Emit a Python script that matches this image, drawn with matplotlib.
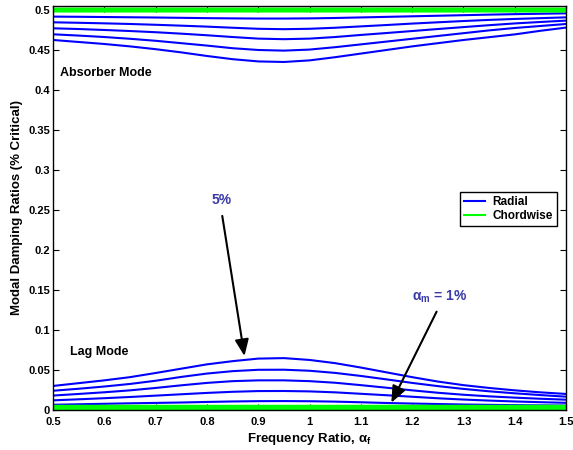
import numpy as np
import matplotlib
matplotlib.use("Agg")
import matplotlib.pyplot as plt
from matplotlib.lines import Line2D

plt.rcParams['font.family'] = ['Liberation Sans', 'DejaVu Sans']
plt.rcParams['font.weight'] = 'bold'
plt.rcParams['mathtext.fontset'] = 'custom'
plt.rcParams['mathtext.rm'] = 'Liberation Sans:bold'
plt.rcParams['mathtext.bf'] = 'Liberation Sans:bold'
plt.rcParams['mathtext.it'] = 'Liberation Sans:bold'
plt.rcParams['mathtext.default'] = 'bf'

# frequency ratio samples
freq = [0.50, 0.55, 0.60, 0.65, 0.70, 0.75, 0.80, 0.85, 0.90, 0.95, 1.00,
        1.05, 1.10, 1.15, 1.20, 1.25, 1.30, 1.35, 1.40, 1.45, 1.50]

# radial, absorber mode (alpha_m = 1% .. 5%)
abs_1 = [0.4917, 0.4915, 0.4912, 0.4909, 0.4906, 0.4902, 0.4898, 0.4895, 0.4893, 0.4893, 0.4895,
         0.4900, 0.4907, 0.4914, 0.4921, 0.4928, 0.4935, 0.4942, 0.4948, 0.4953, 0.4958]
abs_2 = [0.4846, 0.4840, 0.4833, 0.4825, 0.4815, 0.4804, 0.4792, 0.4778, 0.4765, 0.4760, 0.4765,
         0.4778, 0.4795, 0.4812, 0.4830, 0.4846, 0.4862, 0.4876, 0.4888, 0.4898, 0.4908]
abs_3 = [0.4771, 0.4762, 0.4750, 0.4737, 0.4722, 0.4704, 0.4684, 0.4662, 0.4642, 0.4635, 0.4642,
         0.4662, 0.4688, 0.4712, 0.4737, 0.4762, 0.4786, 0.4810, 0.4832, 0.4850, 0.4867]
abs_4 = [0.4696, 0.4680, 0.4662, 0.4640, 0.4615, 0.4585, 0.4555, 0.4522, 0.4500, 0.4492, 0.4505,
         0.4535, 0.4570, 0.4605, 0.4640, 0.4675, 0.4710, 0.4745, 0.4775, 0.4800, 0.4825]
abs_5 = [0.4625, 0.4600, 0.4575, 0.4545, 0.4510, 0.4470, 0.4425, 0.4385, 0.4357, 0.4350, 0.4370,
         0.4410, 0.4455, 0.4500, 0.4545, 0.4585, 0.4625, 0.4660, 0.4695, 0.4740, 0.4780]

# radial, lag mode
lag_1 = [0.0065, 0.0071, 0.0077, 0.0083, 0.0088, 0.0093, 0.0100, 0.0106, 0.0110, 0.0111, 0.0109,
         0.0104, 0.0096, 0.0087, 0.0080, 0.0074, 0.0068, 0.0064, 0.0060, 0.0057, 0.0055]
lag_2 = [0.0120, 0.0133, 0.0147, 0.0162, 0.0179, 0.0196, 0.0213, 0.0227, 0.0236, 0.0237, 0.0232,
         0.0220, 0.0202, 0.0184, 0.0165, 0.0146, 0.0130, 0.0117, 0.0106, 0.0097, 0.0089]
lag_3 = [0.0180, 0.0200, 0.0221, 0.0245, 0.0275, 0.0308, 0.0338, 0.0360, 0.0370, 0.0370, 0.0360,
         0.0340, 0.0310, 0.0278, 0.0245, 0.0215, 0.0190, 0.0170, 0.0154, 0.0140, 0.0128]
lag_4 = [0.0240, 0.0265, 0.0293, 0.0325, 0.0365, 0.0413, 0.0455, 0.0485, 0.0502, 0.0503, 0.0490,
         0.0463, 0.0425, 0.0382, 0.0338, 0.0298, 0.0263, 0.0233, 0.0208, 0.0186, 0.0166]
lag_5 = [0.0300, 0.0335, 0.0370, 0.0410, 0.0462, 0.0516, 0.0570, 0.0610, 0.0642, 0.0648, 0.0625,
         0.0585, 0.0530, 0.0470, 0.0410, 0.0355, 0.0310, 0.0275, 0.0245, 0.0220, 0.0200]

# chordwise levels (flat)
chord_abs = [0.4995, 0.4999, 0.5003, 0.5007, 0.5010]
chord_lag = [0.0012, 0.0022, 0.0032, 0.0042, 0.0052]

fig = plt.figure(figsize=(5.73, 4.5), dpi=100)
ax = fig.add_axes([0.0925, 0.089, 0.8955, 0.8977])

blue = '#0000ff'
green = '#00ff00'
for c in [abs_1, abs_2, abs_3, abs_4, abs_5, lag_1, lag_2, lag_3, lag_4, lag_5]:
    ax.plot(freq, c, color=blue, lw=1.5)
for lv in chord_abs + chord_lag:
    ax.plot([freq[0], freq[-1]], [lv, lv], color=green, lw=2.5)

ax.set_xlim(0.5, 1.5)
ax.set_ylim(0, 0.505)
xt = [0.5, 0.6, 0.7, 0.8, 0.9, 1.0, 1.1, 1.2, 1.3, 1.4, 1.5]
yt = [0, 0.05, 0.1, 0.15, 0.2, 0.25, 0.3, 0.35, 0.4, 0.45, 0.5]
ax.set_xticks(xt)
ax.set_xticklabels(['%g' % v for v in xt])
ax.set_yticks(yt)
ax.set_yticklabels(['%g' % v for v in yt])
ax.tick_params(direction='in', top=True, right=True, labelsize=8, length=4, pad=2)
ax.tick_params(axis='x', pad=5)
for s in ax.spines.values():
    s.set_linewidth(1.0)

ax.set_xlabel(r'Frequency Ratio, α$_\mathbf{f}$', fontsize=9.5, fontweight='bold', labelpad=3)
ax.set_ylabel('Modal Damping Ratios (% Critical)', fontsize=9.5, fontweight='bold', labelpad=4)

ax.text(0.514, 0.421, 'Absorber Mode', fontsize=9, fontweight='bold', va='center', ha='left')
ax.text(0.533, 0.0725, 'Lag Mode', fontsize=9, fontweight='bold', va='center', ha='left')

txtc = '#3a3aa8'
arrow = dict(arrowstyle='-|>,head_length=1.0,head_width=0.42', color='black', lw=1.5)
ax.annotate('', xy=(0.874, 0.064), xytext=(0.829, 0.246), arrowprops=arrow)
ax.text(0.829, 0.2625, '5%', color=txtc, fontsize=10, fontweight='bold', ha='center', va='center')
ax.annotate('', xy=(1.157, 0.006), xytext=(1.250, 0.126), arrowprops=arrow)
ax.text(1.254, 0.141, r'α$_\mathbf{m}$ = 1%', color=txtc, fontsize=10, fontweight='bold',
        ha='center', va='center')

handles = [Line2D([], [], color=blue, lw=1.5), Line2D([], [], color=green, lw=1.5)]
leg = ax.legend(handles, ['Radial', 'Chordwise'], loc='upper right',
                bbox_to_anchor=(0.982, 0.54), fontsize=8.5, frameon=True, fancybox=False,
                edgecolor='black', framealpha=1, borderpad=0.35, labelspacing=0.15,
                handlelength=1.8, handletextpad=0.6, borderaxespad=0)
leg.get_frame().set_linewidth(1.0)
for t in leg.get_texts():
    t.set_fontweight('bold')

fig.savefig('out.png', dpi=100)
